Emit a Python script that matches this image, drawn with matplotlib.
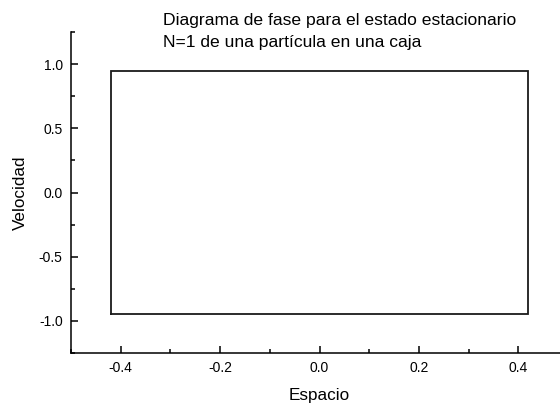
import matplotlib.pyplot as plt
from matplotlib.ticker import MultipleLocator

plt.rcParams['font.family'] = ['Liberation Sans', 'DejaVu Sans']

# trayectoria en el espacio de fase (N=1): rebote entre las paredes de la caja
espacio = [-0.42, -0.42, 0.42, 0.42, -0.42]
velocidad = [-0.95, 0.95, 0.95, -0.95, -0.95]

titulo = ["Diagrama de fase para el estado estacionario",
          "N=1 de una partícula en una caja"]

W, H = 560, 407
fig = plt.figure(figsize=(W / 100, H / 100), dpi=100)
ax = fig.add_axes([71 / W, (H - 353) / H, 497 / W, 321 / H])

ax.plot(espacio, velocidad, color='#1a1a1a', lw=1.3, solid_joinstyle='miter')

ax.set_xlim(-0.5, 0.5)
ax.set_ylim(-1.25, 1.25)
ax.xaxis.set_major_locator(MultipleLocator(0.2))
ax.xaxis.set_minor_locator(MultipleLocator(0.1))
ax.yaxis.set_major_locator(MultipleLocator(0.5))
ax.yaxis.set_minor_locator(MultipleLocator(0.25))
ax.tick_params(which='both', direction='in', width=1.1, labelsize=10, pad=6)
ax.tick_params(which='major', length=5)
ax.tick_params(which='minor', length=3)
ax.set_xticks([-0.4, -0.2, 0.0, 0.2, 0.4])
ax.set_xticklabels(['-0.4', '-0.2', '0.0', '0.2', '0.4'])
ax.set_yticks([-1.0, -0.5, 0.0, 0.5, 1.0])
ax.set_yticklabels(['-1.0', '-0.5', '0.0', '0.5', '1.0'])

for s in ('top', 'right'):
    ax.spines[s].set_visible(False)
for s in ('left', 'bottom'):
    ax.spines[s].set_linewidth(1.1)

ax.set_xlabel('Espacio', fontsize=12.3, labelpad=9)
ax.set_ylabel('Velocidad', fontsize=12.3, labelpad=8)

fig.text(163 / W, 1 - 25 / H, titulo[0], fontsize=12.6, ha='left', va='baseline')
fig.text(163 / W, 1 - 47 / H, titulo[1], fontsize=12.6, ha='left', va='baseline')

fig.savefig('out.png', dpi=100)
